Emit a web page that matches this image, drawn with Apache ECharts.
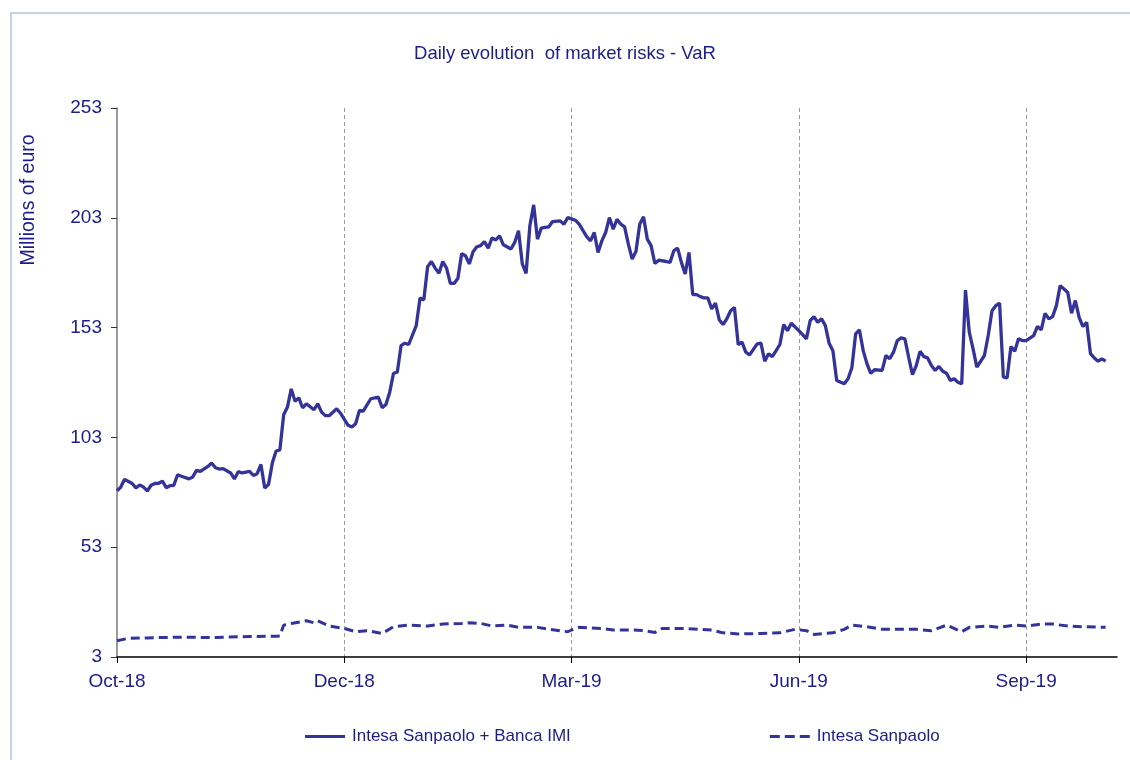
<!DOCTYPE html>
<html>
<head>
<meta charset="utf-8">
<script src="https://cdn.jsdelivr.net/npm/echarts@6/dist/echarts.min.js"></script>
<style>
  html, body { margin: 0; padding: 0; background: #ffffff; }
  #frame { position: absolute; left: 10px; top: 12px; width: 1130px; height: 760px;
           border-left: 2px solid #c3d3e8; border-top: 2px solid #c3d3e8; pointer-events: none; }
  #chart { position: absolute; left: 0; top: 0; width: 1130px; height: 760px; }
</style>
</head>
<body>
<div id="frame"></div>
<div id="chart"></div>
<script>
// ---- data ----
const tickLabels = ['Oct-18', 'Dec-18', 'Mar-19', 'Jun-19', 'Sep-19'];
const tickStep = 60;          // trading days between labelled ticks
const dayCount = 265;         // trading-day slots on the axis

const seriesNames = ['Intesa Sanpaolo + Banca IMI', 'Intesa Sanpaolo'];

// Intesa Sanpaolo + Banca IMI (trading-day index, VaR in millions of euro)
const totalDays = [0,1,2,4,5,6,7,8,9,10,11,12,13,14,15,16,17,19,20,21,22,24,25,26,27,28,30,31,32,33,35,36,37,38,39,40,41,42,43,44,45,46,47,48,49,50,52,53,54,55,56,58,59,61,62,63,64,65,67,69,70,71,72,73,74,75,76,77,79,80,81,82,83,84,85,86,87,88,89,90,91,92,93,94,95,96,97,98,99,100,101,102,104,105,106,107,108,109,110,111,112,113,114,115,117,118,119,121,122,124,125,126,127,128,129,130,131,132,133,134,135,136,137,138,139,140,141,142,143,145,146,147,148,149,150,151,152,153,154,155,156,157,158,159,160,161,162,163,164,165,166,167,169,170,171,172,173,174,175,176,177,178,180,181,182,183,184,185,186,187,188,189,190,192,193,194,195,196,197,198,199,200,202,203,204,205,206,207,208,209,210,211,212,213,214,215,216,217,218,219,220,221,222,223,224,225,226,227,229,230,231,232,233,234,235,236,237,238,239,240,242,243,244,245,246,247,248,249,250,251,252,253,254,255,256,257,258,259,260,261];
const totalVaR = [78.6,80.4,83.9,82.0,80.0,81.3,80.4,78.6,81.2,82.0,82.1,83.1,80.1,81.0,81.2,86.0,85.3,84.1,85.0,88.0,87.5,89.8,91.3,89.2,88.6,88.8,86.8,84.1,87.4,86.8,87.5,85.7,86.5,90.7,80.0,81.5,91.3,96.8,97.3,113.3,116.8,125.1,119.5,121.0,116.5,118.3,115.6,118.3,114.5,112.9,112.9,116.0,114.0,108.5,107.7,109.2,115.3,115.0,120.6,121.3,116.5,118.0,123.6,132.2,132.7,144.8,145.9,145.3,153.9,166.5,165.6,180.7,183.1,180.1,177.7,183.1,180.1,173.1,173.1,175.5,186.7,185.7,182.0,187.5,189.8,190.3,192.2,189.2,193.8,192.9,194.8,190.7,188.8,191.8,197.1,182.0,177.7,199.4,208.9,193.3,198.3,198.6,198.9,201.3,201.6,200.1,203.1,201.9,200.1,194.4,192.5,196.3,187.2,192.5,196.3,203.1,197.8,202.3,200.1,198.9,191.0,184.2,187.7,200.1,203.5,193.3,190.3,182.2,183.7,183.1,182.7,188.0,189.2,182.7,177.4,187.2,168.0,168.0,167.1,166.5,166.5,161.5,164.1,156.5,154.4,157.0,160.7,162.2,145.3,146.4,141.8,140.6,145.6,145.9,137.7,141.1,139.8,142.5,145.3,154.4,151.6,155.0,151.6,149.8,147.9,156.2,158.0,155.4,157.0,153.9,145.9,142.5,128.9,127.4,129.7,134.7,150.1,152.0,142.5,136.5,132.2,133.8,133.5,140.3,138.8,141.8,147.1,148.3,147.9,139.5,131.6,135.7,142.2,139.8,139.2,135.7,133.5,135.3,133.1,132.2,128.9,129.7,128.1,127.4,170.1,150.9,143.3,135.0,140.3,149.4,160.7,163.0,164.2,130.4,130.1,144.4,142.2,147.9,147.1,147.1,149.4,153.5,152.0,159.5,157.0,158.0,163.0,172.1,170.6,169.0,159.5,165.3,157.7,153.5,155.4,141.1,139.2,137.7,138.8,137.7];

// Intesa Sanpaolo
const ispDays = [0,3,8,15,25,35,42,43,44,46,50,52,53,56,60,63,66,70,73,77,82,86,91,93,96,99,103,106,111,114,119,120,122,128,131,136,139,142,144,150,154,157,160,164,170,175,179,182,184,189,192,194,198,202,207,211,215,219,223,225,230,233,237,240,244,247,251,255,261];
const ispVaR = [10.4,11.5,11.7,12.0,11.9,12.3,12.5,12.6,17.5,18.3,19.5,18.6,19.5,17.1,16.0,14.5,15.0,13.7,16.8,17.5,17.1,18.0,18.3,18.6,18.3,17.1,17.5,16.5,16.5,15.6,14.5,15.3,16.5,16.0,15.3,15.3,15.0,14.2,16.0,16.0,15.6,15.3,14.0,13.5,13.7,14.0,15.6,15.0,13.3,14.0,15.6,17.5,16.8,15.6,15.6,15.6,15.0,17.5,14.5,16.5,17.1,16.5,17.5,17.1,18.0,18.0,17.1,16.8,16.5];

const yMin = 3, yMax = 253, yStep = 50;

// ---- chart ----
const textColor = '#1c1c8a';
const lineColor = '#333399';
const fontFam = '"Liberation Sans", Arial, sans-serif';

const categories = Array.from({ length: dayCount }, (_, i) =>
  (i % tickStep === 0 && tickLabels[i / tickStep]) ? tickLabels[i / tickStep] : '');
const isTick = (i) => i % tickStep === 0 && i / tickStep < tickLabels.length;

const solidIcon = 'path://M0,0H40V3H0Z';
const dashIcon = 'path://M0,0H10V3H0Z M15,0H25V3H15Z M30,0H40V3H30Z';

const chart = echarts.init(document.getElementById('chart'), null, { renderer: 'canvas' });
chart.setOption({
  animation: false,
  title: {
    text: 'Daily evolution  of market risks - VaR',
    left: 'center', top: 39,
    textStyle: { color: textColor, fontSize: 18.5, fontWeight: 'normal', fontFamily: fontFam }
  },
  grid: { left: 117, right: 13, top: 108, bottom: 103, containLabel: false },
  legend: {
    left: 300, top: 723,
    itemWidth: 40, itemHeight: 3, itemGap: 199,
    itemStyle: { borderWidth: 0 },
    lineStyle: { width: 0 },
    textStyle: { color: textColor, fontSize: 17, fontFamily: fontFam, padding: [0, 0, 0, 2] },
    data: [
      { name: seriesNames[0], icon: solidIcon },
      { name: seriesNames[1], icon: dashIcon }
    ]
  },
  graphic: [{
    type: 'text', x: 29, y: 200, rotation: Math.PI / 2,
    style: { text: 'Millions of euro', fill: textColor, font: '19.5px ' + fontFam,
             align: 'center', verticalAlign: 'middle' }
  }],
  xAxis: {
    type: 'category', data: categories, boundaryGap: false,
    axisLine: { lineStyle: { color: '#000000', width: 1.5 } },
    axisTick: { interval: (i) => isTick(i), length: 6, lineStyle: { color: '#000000', width: 1 } },
    axisLabel: { interval: (i) => isTick(i), color: textColor, fontSize: 19, fontFamily: fontFam, margin: 15 },
    splitLine: { show: true, interval: (i) => isTick(i) && i > 0,
                 lineStyle: { color: '#9a9a9a', width: 1, type: [4, 3] } }
  },
  yAxis: {
    type: 'value', min: yMin, max: yMax, interval: yStep,
    axisLine: { show: true, lineStyle: { color: '#7a7a7a', width: 1.5 } },
    axisTick: { show: true, length: 6, lineStyle: { color: '#333333' } },
    axisLabel: { color: textColor, fontSize: 19, fontFamily: fontFam, margin: 15 },
    splitLine: { show: false }
  },
  series: [
    {
      name: seriesNames[0], type: 'line', symbol: 'none',
      data: totalDays.map((d, i) => [d, totalVaR[i]]),
      lineStyle: { color: lineColor, width: 3.3 },
      itemStyle: { color: lineColor }
    },
    {
      name: seriesNames[1], type: 'line', symbol: 'none',
      data: ispDays.map((d, i) => [d, ispVaR[i]]),
      lineStyle: { color: lineColor, width: 3, type: [9, 5] },
      itemStyle: { color: lineColor }
    }
  ]
});
</script>
</body>
</html>
